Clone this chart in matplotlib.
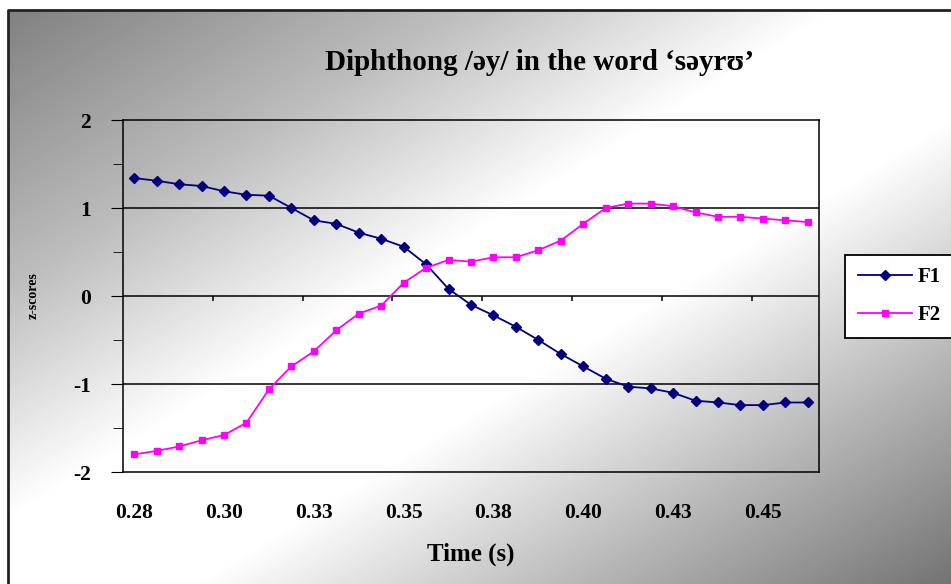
import numpy as np
import matplotlib
matplotlib.use("Agg")
import matplotlib.pyplot as plt
from matplotlib.patches import Rectangle
from matplotlib.ticker import MultipleLocator

# z-scores of the formants, one value per frame (31 frames)
f1 = [1.34, 1.31, 1.27, 1.25, 1.19, 1.15, 1.14, 1.00, 0.86, 0.82, 0.72, 0.65,
      0.56, 0.36, 0.08, -0.10, -0.22, -0.35, -0.50, -0.66, -0.80, -0.94,
      -1.03, -1.05, -1.10, -1.19, -1.21, -1.24, -1.24, -1.21, -1.21]
f2 = [-1.80, -1.76, -1.71, -1.64, -1.58, -1.44, -1.06, -0.80, -0.63, -0.39,
      -0.20, -0.11, 0.15, 0.32, 0.41, 0.39, 0.44, 0.44, 0.52, 0.63, 0.82,
      1.00, 1.05, 1.05, 1.02, 0.95, 0.90, 0.90, 0.88, 0.86, 0.84]
tick_labels = ['0.28', '0.30', '0.33', '0.35', '0.38', '0.40', '0.43', '0.45']
label_every = 4

serif = ['Liberation Serif', 'DejaVu Serif']
plt.rcParams['axes.unicode_minus'] = False

W, H = 951, 584
fig = plt.figure(figsize=(W / 100, H / 100), dpi=100)
fig.patch.set_facecolor('white')

# diagonal grey gradient background inside the chart frame
bg = fig.add_axes([0, 0, 1, 1], zorder=-10)
yy, xx = np.mgrid[0:H, 0:W]
t = (xx / W + yy / H) / 2
v = np.interp(t, [0, 0.25, 0.45, 0.6, 0.8, 1.0], [0.49, 0.74, 1.0, 1.0, 0.72, 0.45])
bg.imshow(v, cmap='gray', vmin=0, vmax=1, extent=[0, W, H, 0], aspect='auto')
bg.add_patch(Rectangle((0, 0), W, 10, color='white', zorder=2))
bg.add_patch(Rectangle((0, 0), 8, H, color='white', zorder=2))
bg.plot([8, 8, W], [H, 10, 10], color='#222222', lw=2, zorder=3)
bg.set_xlim(0, W)
bg.set_ylim(H, 0)
bg.axis('off')

ax = fig.add_axes([123 / W, 1 - 472 / H, (819 - 123) / W, (472 - 120) / H])
ax.set_facecolor('none')

x = np.arange(len(f1))
ax.plot(x, f1, color='#000080', lw=1.3, marker='D', ms=5, label='F1', zorder=4)
ax.plot(x, f2, color='#FF00FF', lw=1.3, marker='s', ms=4.5, label='F2', zorder=4)

ax.set_xlim(-0.5, len(f1) - 0.5)
ax.set_ylim(-2, 2)

for yv in (1, 0, -1):
    ax.axhline(yv, color='black', lw=1.1, zorder=2)
# category-axis tick marks at y = 0, between groups of frames
bounds = np.arange(label_every - 0.5, len(f1) - 1, label_every)
ax.vlines(bounds, -0.06, 0, color='black', lw=1.1, zorder=2)

for s in ax.spines.values():
    s.set_color('black')
    s.set_linewidth(1.1)

ax.set_xticks(x[::label_every])
ax.set_xticklabels(tick_labels)
ax.tick_params(axis='x', length=0, pad=22)
ax.yaxis.set_major_locator(MultipleLocator(1))
ax.yaxis.set_minor_locator(MultipleLocator(0.5))
ax.tick_params(axis='y', which='major', length=9, direction='out', pad=14)
ax.tick_params(axis='y', which='minor', length=7, direction='out')
for lab in ax.get_xticklabels() + ax.get_yticklabels():
    lab.set_family(serif)
    lab.set_fontweight('bold')
    lab.set_fontsize(15.5)

ax.set_xlabel('Time (s)', family=serif, fontweight='bold', fontsize=18)
ax.xaxis.set_label_coords(0.5, -0.2)
ax.set_ylabel('z-scores', family=serif, fontweight='bold', fontsize=10)
ax.yaxis.set_label_coords(-0.12, 0.5)

fig.text(540 / W, 1 - 62 / H, 'Diphthong /əy/ in the word ‘səyrʊ’',
         family=serif, fontweight='bold', fontsize=21, ha='center', va='center')

leg = fig.legend(loc='upper left', bbox_to_anchor=(845 / W, 1 - 255 / H),
                 borderaxespad=0, frameon=True, fancybox=False,
                 edgecolor='black', facecolor='white', framealpha=1,
                 handlelength=2.6, handletextpad=0.3, borderpad=0.6,
                 labelspacing=0.85,
                 prop={'family': serif, 'weight': 'bold', 'size': 15})
leg.get_frame().set_linewidth(1.3)

fig.savefig('out.png', dpi=100)
